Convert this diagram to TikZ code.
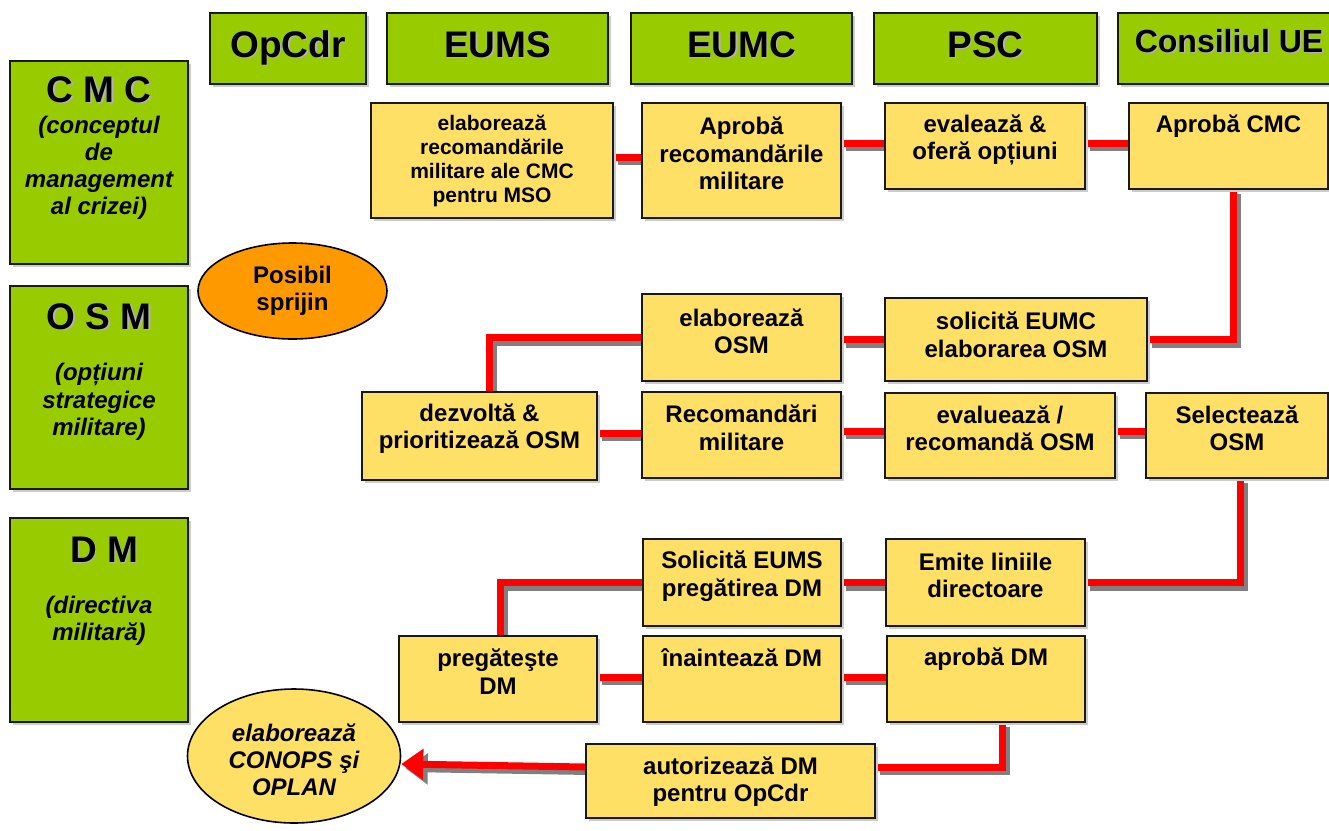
\documentclass[tikz,border=0pt]{standalone}
\usepackage{fontspec}
\setmainfont{Liberation Sans}
\usetikzlibrary{arrows.meta,calc,shapes.geometric,shadows}
\definecolor{hgreen}{RGB}{153,204,0}
\definecolor{byellow}{RGB}{255,224,102}
\definecolor{eorange}{RGB}{255,153,0}
\definecolor{cred}{RGB}{255,0,0}
\definecolor{csh}{RGB}{128,128,128}
\pgfdeclarelayer{bg}
\pgfsetlayers{bg,main}
\tikzset{
  bsh/.style={drop shadow={shadow xshift=2.5pt,shadow yshift=-2.5pt,fill=black!20,opacity=1}},
  gbox/.style={draw=black!90, line width=1.6pt, fill=hgreen, bsh, inner sep=0pt},
  ybox/.style={draw=black!90, line width=1.6pt, fill=byellow, bsh, inner sep=0pt},
  htext/.style={font=\fontsize{37}{40}\selectfont\bfseries, anchor=base, inner sep=0pt},
  htsh/.style={htext, text=black!30},
  ltext/.style={font=\fontsize{24}{27}\selectfont\bfseries\itshape, align=center, inner sep=0pt},
  btext/.style={font=\fontsize{24}{27.5}\selectfont\bfseries, align=center, inner sep=0pt},
  wire/.style={draw=cred, line width=7pt},
  wiresh/.style={draw=csh, line width=7pt, transform canvas={xshift=4.5pt,yshift=-4.5pt}},
  bigtip/.style={-{Triangle[length=22pt,width=30pt]}}
}
\newcommand\wirepath[1]{\draw[wiresh] #1; \draw[wire] #1;}
\newcommand\ybx[8]{%
  \node[ybox, minimum width={#4-#2}, minimum height={#5-#3}] (#1) at ({(#2+#4)/2},{(#3+#5)/2}) {};
  \node[btext,#7] (#1t) at ({(#2+#4)/2},#6) {#8};}
\newcommand\hbx[7]{% name x1 x2 textx baseline fontsize text
  \node[gbox, minimum width={#3-#2}, minimum height=71] (#1) at ({(#2+#3)/2},48.5) {};
  \node[htsh, font=\fontsize{#6}{#6}\selectfont\bfseries] (#1s) at ({#4+1.5},{#5+1.5}) {#7};
  \node[htext, font=\fontsize{#6}{#6}\selectfont\bfseries] (#1t) at (#4,#5) {#7};}
\begin{document}
\begin{tikzpicture}[x=1pt,y=-1pt]
\useasboundingbox (0,0) rectangle (1329,830);

% header row
\hbx{hOp}{210}{366}{288}{57}{37}{OpCdr}
\hbx{hEUMS}{387}{608}{497.5}{57}{37}{EUMS}
\hbx{hEUMC}{631}{852}{741.5}{57}{37}{EUMC}
\hbx{hPSC}{874}{1097}{985.5}{57}{37}{PSC}
\hbx{hCons}{1118}{1340}{1229}{52}{32}{Consiliul UE}

% left column
\node[gbox, minimum width=178, minimum height=203] (lCMC) at (99,162.5) {};
\node[htsh] (lCMCs) at (100.5,103.5) {C M C};
\node[htext] (lCMCt) at (99,102) {C M C};
\node[ltext] (lCMCd) at (99,168) {(conceptul\\de\\management\\al crizei)};

\node[gbox, minimum width=178, minimum height=203] (lOSM) at (99,387.5) {};
\node[htsh] (lOSMs) at (100.5,330.5) {O S M};
\node[htext] (lOSMt) at (99,329) {O S M};
\node[ltext, font=\fontsize{24}{27.5}\selectfont\bfseries\itshape] (lOSMd) at (99,402) {(opțiuni\\strategice\\militare)};

\node[gbox, minimum width=178, minimum height=204] (lDM) at (99,620) {};
\node[htsh] (lDMs) at (105.5,563.5) {D M};
\node[htext] (lDMt) at (104,562) {D M};
\node[ltext] (lDMd) at (99,621) {(directiva\\militară)};

% ellipses
\node[ellipse, draw=black, line width=1.6pt, fill=eorange, minimum width=189, minimum height=96, inner sep=0pt,
      font=\fontsize{24}{27}\selectfont\bfseries, align=center] (E1) at (292.5,291) {Posibil\\sprijin};
\node[ellipse, draw=black, line width=1.6pt, fill=byellow, minimum width=213, minimum height=134, inner sep=0pt] (E2) at (294,756) {};
\node[ltext] (E2t) at (294,760) {elaborează\\CONOPS şi\\OPLAN};

% process boxes
\ybx{B1}{371}{103}{613}{218}{161}{font=\fontsize{21}{24}\selectfont\bfseries}{elaborează\\recomandările\\militare ale CMC\\pentru MSO}
\ybx{B2}{642}{103}{841}{218}{153.5}{}{Aprobă\\recomandările\\militare}
\ybx{B3}{885}{103}{1085}{189}{140}{}{evalează \&\\oferă opțiuni}
\ybx{B4}{1129}{103}{1328}{189}{126}{}{Aprobă CMC}
\ybx{B5}{642}{294}{841}{381}{331.5}{}{elaborează\\OSM}
\ybx{B6}{885}{298}{1147}{381}{335}{}{solicită EUMC\\elaborarea OSM}
\ybx{B7}{362}{392}{597}{480}{428.5}{}{dezvoltă \&\\prioritizează OSM}
\ybx{B8}{642}{392}{841}{478}{428}{}{Recomandări\\militare}
\ybx{B9}{885}{393}{1115}{478}{428.5}{}{evaluează /\\recomandă OSM}
\ybx{B10}{1146}{393}{1328}{478}{428.5}{}{Selectează\\OSM}
\ybx{B11}{886}{539}{1085}{626}{575.5}{}{Emite liniile\\directoare}
\ybx{B12}{643}{539}{841}{626}{576}{}{Solicită EUMS\\pregătirea DM}
\ybx{B13}{399}{636}{597}{722}{671.5}{}{pregăteşte\\DM}
\ybx{B14}{643}{636}{841}{722}{658}{}{înaintează DM}
\ybx{B15}{887}{636}{1085}{722}{659}{}{aprobă DM}
\ybx{B16}{586}{744}{875}{818}{781.5}{}{autorizează DM\\pentru OpCdr}

% connectors
\coordinate (k12) at ([yshift=3.5pt]B1.east);
\coordinate (k23) at ([yshift=3pt]B3.west);
\coordinate (k46) at ([xshift=4.5pt]B4.south);
\coordinate (k57) at ([xshift=9.5pt]B7.north);
\coordinate (k78) at ([yshift=3pt]B7.east);
\coordinate (k89) at ([yshift=4.5pt]B9.west);
\coordinate (k1011) at ([xshift=3pt]B10.south);
\coordinate (k1213) at ([xshift=2pt]B13.north);
\coordinate (k1314) at ([yshift=2pt]B13.east);
\coordinate (k1516) at ([xshift=16pt]B15.south);
\coordinate (k16) at ([yshift=14pt]B16.east);
\coordinate (k16w) at (k16 -| B16.west);
\coordinate (kE2) at ([yshift=-8pt]E2.east);
\begin{pgfonlayer}{bg}
\wirepath{(k12) -- (k12 -| B2.west)}
\wirepath{(k23 -| B2.east) -- (k23)}
\wirepath{(k23 -| B3.east) -- (k23 -| B4.west)}
\wirepath{(k46) |- (B6.east)}
\wirepath{(B6.west) -- (B6.west -| B5.east)}
\wirepath{(B5.west) -| (k57)}
\wirepath{(k78) -- (k78 -| B8.west)}
\wirepath{(k89 -| B8.east) -- (k89)}
\wirepath{(k89 -| B9.east) -- (k89 -| B10.west)}
\wirepath{(k1011) |- (B11.east)}
\wirepath{(B11.west) -- (B11.west -| B12.east)}
\wirepath{(B12.west) -| (k1213)}
\wirepath{(k1314) -- (k1314 -| B14.west)}
\wirepath{(k1314 -| B14.east) -- (k1314 -| B15.west)}
\wirepath{(k1516) |- (k16)}
\draw[wiresh, bigtip] (k16w) -- (kE2);
\draw[wire, bigtip] (k16w) -- (kE2);
\end{pgfonlayer}
\end{tikzpicture}
\end{document}
